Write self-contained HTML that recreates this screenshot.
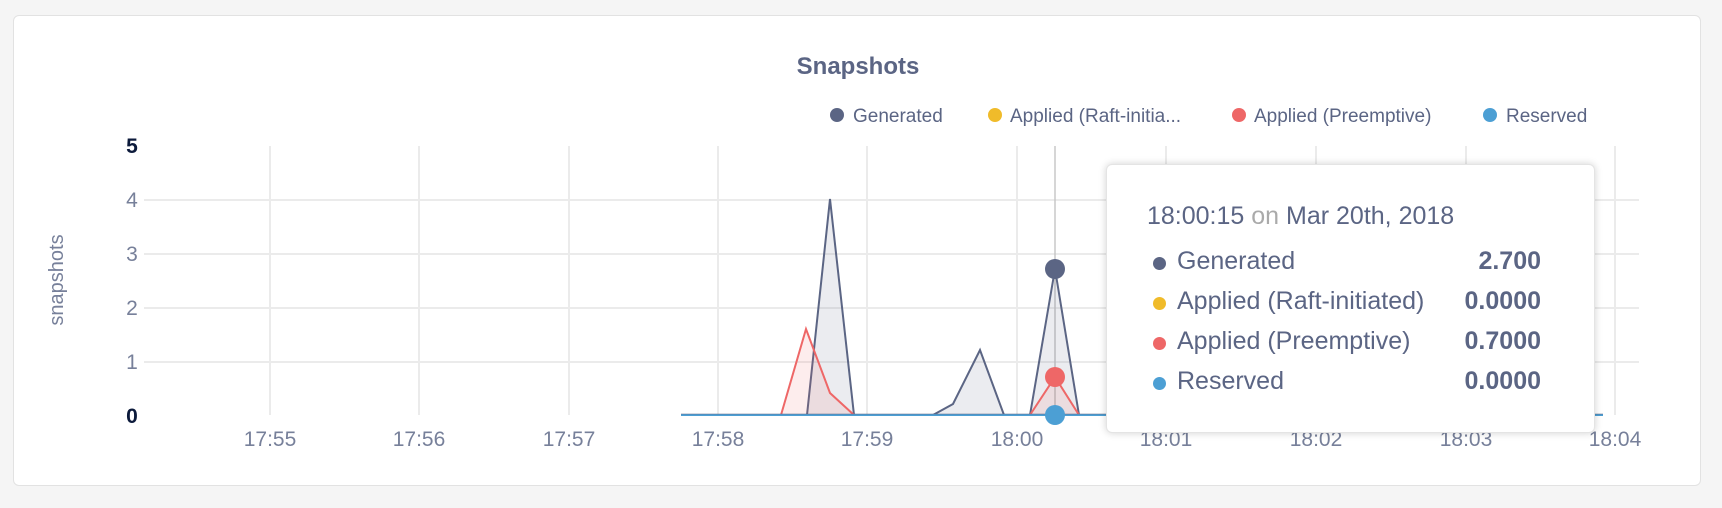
<!DOCTYPE html>
<html><head><meta charset="utf-8"><style>
html,body{margin:0;padding:0;background:#f5f5f5;}
body{width:1722px;height:508px;overflow:hidden;position:relative;font-family:"Liberation Sans",sans-serif;}
.card{position:absolute;left:13px;top:15px;width:1688px;height:471px;background:#fff;border:1px solid #e2e2e2;border-radius:6px;box-sizing:border-box;}
svg{position:absolute;left:0;top:0;}
.tip{position:absolute;left:1106px;top:164px;width:489px;height:269px;background:#fff;border-radius:6px;box-shadow:0 0 8px rgba(0,0,0,0.18);border:1px solid #e4e4e4;box-sizing:border-box;color:#5b6584;}
.tip .h{position:absolute;left:40px;top:37px;font-size:25px;}
.tip .r{position:absolute;left:40px;width:394px;height:30px;font-size:25px;}
.tip .r i{position:absolute;left:6px;top:10px;width:13px;height:13px;border-radius:50%;}
.tip .r span{position:absolute;left:30px;top:0px;}
.tip .r b{position:absolute;right:0;top:0px;font-weight:bold;}
</style></head><body>
<div class="card"></div>
<svg width="1722" height="508" font-family="Liberation Sans, sans-serif">
<text x="858" y="74" text-anchor="middle" font-size="24" font-weight="bold" fill="#5b6584">Snapshots</text>
<g font-size="19" fill="#5b6584">
<circle cx="837" cy="115" r="7" fill="#5b6584"/><text x="853" y="122">Generated</text>
<circle cx="995" cy="115" r="7" fill="#f0bb2a"/><text x="1010" y="122">Applied (Raft-initia...</text>
<circle cx="1239" cy="115" r="7" fill="#ee6767"/><text x="1254" y="122">Applied (Preemptive)</text>
<circle cx="1490" cy="115" r="7" fill="#4c9fd4"/><text x="1506" y="122">Reserved</text>
</g>
<g stroke="#ebebeb" stroke-width="2">
<line x1="144" y1="200" x2="1639" y2="200"/><line x1="144" y1="254" x2="1639" y2="254"/>
<line x1="144" y1="308" x2="1639" y2="308"/><line x1="144" y1="362" x2="1639" y2="362"/>
<line x1="270" y1="146" x2="270" y2="415"/><line x1="419" y1="146" x2="419" y2="415"/>
<line x1="569" y1="146" x2="569" y2="415"/><line x1="718" y1="146" x2="718" y2="415"/>
<line x1="867" y1="146" x2="867" y2="415"/><line x1="1017" y1="146" x2="1017" y2="415"/>
<line x1="1166" y1="146" x2="1166" y2="415"/><line x1="1316" y1="146" x2="1316" y2="415"/>
<line x1="1466" y1="146" x2="1466" y2="415"/><line x1="1615" y1="146" x2="1615" y2="415"/>
</g>
<g font-size="21" fill="#77809a" text-anchor="middle">
<text x="132" y="153" font-weight="bold" fill="#0c1a3b">5</text>
<text x="132" y="207">4</text><text x="132" y="261">3</text><text x="132" y="315">2</text><text x="132" y="369">1</text>
<text x="132" y="423" font-weight="bold" fill="#0c1a3b">0</text>
<text x="270" y="446">17:55</text><text x="419" y="446">17:56</text><text x="569" y="446">17:57</text>
<text x="718" y="446">17:58</text><text x="867" y="446">17:59</text><text x="1017" y="446">18:00</text>
<text x="1166" y="446">18:01</text><text x="1316" y="446">18:02</text><text x="1466" y="446">18:03</text><text x="1615" y="446">18:04</text>
</g>
<text transform="translate(63,280) rotate(-90)" text-anchor="middle" font-size="20" fill="#77809a">snapshots</text>
<line x1="1055" y1="146" x2="1055" y2="415" stroke="#c8c8c8" stroke-width="1.5"/>
<polygon points="807,415 830,199 854,415" fill="#5b6584" fill-opacity="0.12" stroke="#5b6584" stroke-width="2"/>
<polygon points="933,415 953,404 980,350 1004,415" fill="#5b6584" fill-opacity="0.12" stroke="#5b6584" stroke-width="2"/>
<polygon points="1030,415 1055,269 1079,415" fill="#5b6584" fill-opacity="0.12" stroke="#5b6584" stroke-width="2"/>
<polygon points="781,415 806,329 830,393 854,415" fill="#ee6767" fill-opacity="0.12" stroke="#ee6767" stroke-width="2"/>
<polygon points="1030,415 1055,377 1079,415" fill="#ee6767" fill-opacity="0.12" stroke="#ee6767" stroke-width="2"/>
<line x1="681" y1="415" x2="1603" y2="415" stroke="#4c9fd4" stroke-width="2"/>
<line x1="681" y1="414" x2="1603" y2="414" stroke="#5b6584" stroke-width="1" stroke-opacity="0.5"/>
<circle cx="1055" cy="269" r="10" fill="#5b6584"/>
<circle cx="1055" cy="377" r="10" fill="#ee6767"/>
<circle cx="1055" cy="415" r="10" fill="#4c9fd4"/>
</svg>
<div class="tip">
<div class="h">18:00:15 <span style="color:#aaa">on</span> Mar 20th, 2018</div>
<div class="r" style="top:82px"><i style="background:#5b6584"></i><span>Generated</span><b>2.700</b></div>
<div class="r" style="top:122px"><i style="background:#f0bb2a"></i><span>Applied (Raft-initiated)</span><b>0.0000</b></div>
<div class="r" style="top:162px"><i style="background:#ee6767"></i><span>Applied (Preemptive)</span><b>0.7000</b></div>
<div class="r" style="top:202px"><i style="background:#4c9fd4"></i><span>Reserved</span><b>0.0000</b></div>
</div>
</body></html>
